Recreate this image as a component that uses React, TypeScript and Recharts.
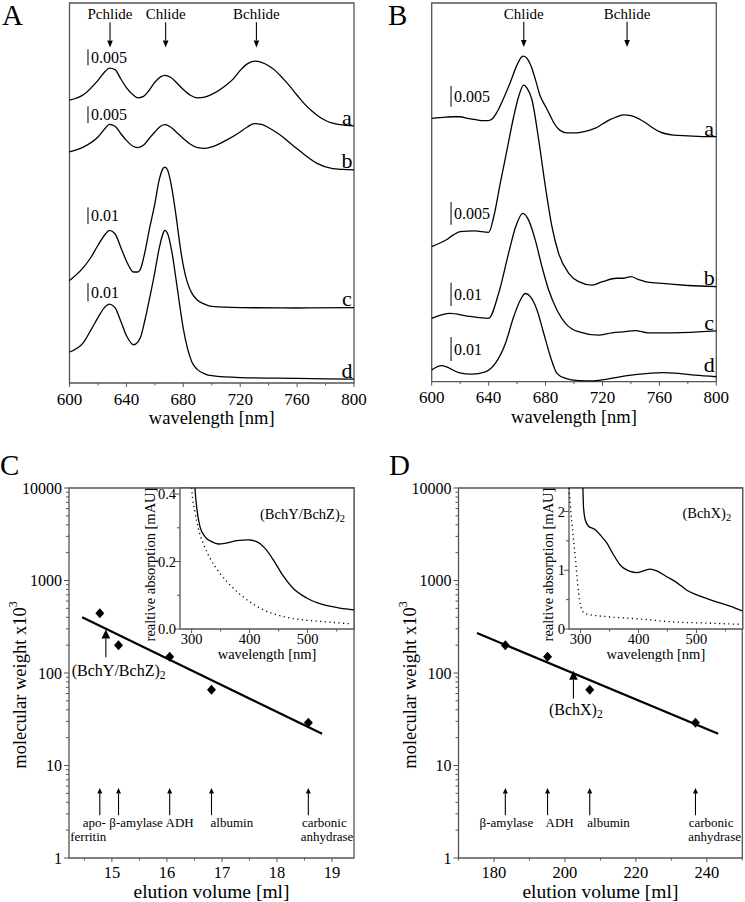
import React from 'react';
import {
  LineChart,
  ComposedChart,
  Line,
  Scatter,
  XAxis,
  YAxis,
  ReferenceArea,
  ReferenceLine,
  ReferenceDot,
} from 'recharts';

const FONT = '"Liberation Serif", "Times New Roman", Times, serif';
const INK = '#000';
const FRAME = '#555';
const TXT = { fontFamily: FONT };

type P = [number, number];

// ---- A: spectra, stacked (offset units, 0..99.3) ----
const specAa: P[] = [[600,73.9],[610,75.4],[620,79.1],[625,81.4],[628,82.3],[632,81.9],[636,79.5],[640,77.2],[645,75.2],[648,74.5],[652,74.9],[656,76.5],[660,78.6],[664,80.0],[667,80.4],[671,79.9],[675,78.6],[680,76.7],[685,75.2],[690,74.5],[695,74.7],[700,75.4],[710,77.8],[715,79.4],[720,81.7],[725,83.4],[730,84.1],[735,83.8],[740,82.9],[745,81.5],[750,79.6],[755,77.5],[760,75.2],[765,73.0],[770,71.2],[775,69.7],[780,68.6],[785,67.9],[790,67.5],[800,67.2]];
const specAb: P[] = [[600,60.4],[610,61.7],[620,64.3],[625,66.5],[628,67.6],[632,67.1],[636,65.2],[640,63.4],[645,61.8],[648,61.5],[652,62.1],[656,63.9],[660,65.6],[664,67.1],[667,67.5],[671,66.9],[675,65.6],[680,63.9],[685,62.4],[690,61.5],[695,61.3],[700,61.7],[710,63.4],[720,65.6],[725,66.9],[730,67.8],[735,67.6],[740,66.7],[745,65.6],[750,64.3],[755,62.7],[762,60.6],[774,57.4],[785,56.0],[792,55.8],[800,55.7]];
const specAc: P[] = [[600,26.8],[610,30.3],[615,32.8],[620,36.0],[625,38.8],[628,39.9],[632,39.0],[636,35.5],[640,31.9],[645,29.0],[648,29.0],[650,29.9],[653,34.2],[656,39.9],[660,46.9],[663,53.0],[666,56.2],[667,56.4],[669,55.6],[672,50.8],[675,43.4],[678,35.1],[680,30.7],[683,26.1],[686,23.5],[690,21.6],[695,20.6],[700,20.0],[720,19.7],[760,19.6],[800,19.7]];
const specAd: P[] = [[600,8.1],[610,10.7],[615,13.8],[620,17.1],[625,19.9],[628,20.6],[632,19.7],[636,16.2],[640,12.4],[645,10.0],[648,10.7],[650,12.0],[653,16.4],[656,21.6],[660,29.0],[663,35.1],[666,39.3],[667,39.9],[669,39.0],[672,34.2],[675,26.8],[678,19.0],[680,14.2],[683,9.0],[686,5.5],[690,3.5],[695,2.4],[700,1.9],[720,1.4],[760,1.2],[800,1.0]];

// ---- B: spectra, stacked (offset units, 0..99.2) ----
const specBa: P[] = [[600,69.0],[610,69.3],[615,69.4],[620,69.4],[625,69.0],[630,68.7],[635,68.4],[640,68.4],[643,69.0],[646,70.7],[650,73.8],[655,78.2],[660,83.0],[663,85.0],[664.5,85.3],[667,84.7],[670,82.5],[673,79.0],[676,75.1],[680,72.1],[683,69.9],[686,67.7],[690,65.9],[695,65.2],[700,65.2],[710,65.8],[715,66.4],[720,67.5],[725,68.6],[730,69.4],[735,69.9],[740,69.7],[745,69.0],[750,67.9],[755,66.6],[760,65.5],[770,64.6],[780,64.4],[790,64.2],[800,64.2]];
const specBb: P[] = [[600,35.4],[610,37.1],[615,38.4],[620,39.3],[630,39.5],[640,39.1],[643.6,43.2],[648.2,52.0],[652.9,60.7],[657.6,69.4],[661.1,74.7],[664.6,77.7],[667,76.9],[670.5,73.8],[675.2,63.3],[679.9,51.1],[684.5,40.6],[689.2,33.6],[696.3,28.4],[703.3,26.2],[712.6,25.3],[720,26.2],[730,27.1],[735,27.1],[740,27.5],[745,26.8],[750,26.2],[760,25.8],[780,25.2],[800,24.9]];
const specBc: P[] = [[600,16.6],[613,17.9],[625,17.2],[640,16.6],[647,23.1],[654,33.6],[659,40.6],[664,44.1],[668,42.4],[672.8,37.1],[677.5,30.1],[682.2,24.0],[688,18.8],[694,15.3],[703,13.1],[717,12.2],[726.7,12.8],[736,13.1],[743,13.4],[752,12.8],[769,12.8],[800,13.3]];
const specBd: P[] = [[600,3.1],[607,4.2],[619,2.4],[628,2.0],[637.7,2.6],[644.7,4.8],[651.8,10.0],[657.6,17.0],[662.3,21.4],[665.8,23.1],[669.3,22.3],[674,18.8],[678.7,12.7],[683.4,6.6],[688,2.2],[694,0.9],[703.3,0.3],[712.6,0.2],[722,0.6],[736,1.5],[752.5,2.2],[761.8,2.4],[773.5,2.2],[785,1.7],[800,1.3]];

const nmTicks = [600, 620, 640, 660, 680, 700, 720, 740, 760, 780, 800];
const nmMajors = [600, 640, 680, 720, 760, 800];

// ---- C / D: gel filtration calibration ----
const calC: P[] = [[14.78, 443], [15.12, 200], [16.05, 150], [16.81, 66], [18.57, 29]];
const fitC: P[] = [[14.46, 400], [18.82, 22]];
const namesC = ['apo-', 'β-amylase', 'ADH', 'albumin', 'carbonic'];
const namesC2 = ['ferritin', '', '', '', 'anhydrase'];
const nameXC = [14.68, 15.44, 16.23, 17.18, 18.86];
const nameX2C = [14.57, 0, 0, 0, 18.91];
const sampleC = { ml: 14.89, from: 148, to: 295 };

const calD: P[] = [[183.2, 200], [195.1, 150], [207, 66], [236.8, 29]];
const fitD: P[] = [[175.2, 270], [243.2, 22]];
const namesD = ['β-amylase', 'ADH', 'albumin', 'carbonic'];
const namesD2 = ['', '', '', 'anhydrase'];
const nameXD = [183.5, 198.5, 212.3, 241.2];
const nameX2D = [0, 0, 0, 242.2];
const sampleD = { ml: 202.4, from: 53, to: 106 };

const mlTicksC = [14.5, 15, 15.5, 16, 16.5, 17, 17.5, 18, 18.5, 19];
const mlMajorsC = [15, 16, 17, 18, 19];
const mlTicksD = [170, 180, 190, 200, 210, 220, 230, 240, 250];
const mlMajorsD = [180, 200, 220, 240];
const logTicks = [1,2,3,4,5,6,7,8,9,10,20,30,40,50,60,70,80,90,100,200,300,400,500,600,700,800,900,1000,2000,3000,4000,5000,6000,7000,8000,9000,10000];
const logMajors = [1, 10, 100, 1000, 10000];

// ---- insets: UV/vis spectra ----
const insetCsolid: P[] = [[304.5,0.46],[305.9,0.416],[308.7,0.362],[314.5,0.303],[323,0.274],[334.6,0.259],[346,0.252],[357.6,0.254],[377.7,0.262],[397.8,0.264],[412,0.259],[426.6,0.239],[440.9,0.205],[455,0.165],[475,0.121],[498.4,0.092],[527,0.072],[555.9,0.062],[580,0.057]];
const insetCdot: P[] = [[298.5,0.46],[300.1,0.416],[305.9,0.347],[311.6,0.298],[320,0.254],[331.7,0.21],[349,0.165],[369,0.126],[395,0.087],[423.6,0.057],[458,0.037],[492.6,0.027],[533,0.021],[576,0.015]];
const insetDsolid: P[] = [[303.5,2.6],[304,2.4],[305,2.08],[308,1.86],[313.8,1.75],[325.3,1.69],[334,1.6],[345.5,1.46],[357,1.26],[368.4,1.09],[385.7,0.98],[397,0.96],[408.6,0.99],[420,1.02],[431.6,0.99],[449,0.89],[466,0.79],[483.4,0.66],[500.7,0.58],[529.3,0.48],[558,0.39],[579,0.31]];
const insetDdot: P[] = [[280,2.4],[285,1.8],[290.8,1.23],[294.8,0.78],[298.3,0.49],[302.4,0.32],[308,0.26],[345.5,0.21],[403,0.17],[460,0.12],[518,0.1],[575,0.08]];

const wlTicks = [300, 350, 400, 450, 500, 550];
const wlMajors = [300, 400, 500];

const nm = (pts: P[]) => pts.map(([x, v]) => ({ nm: x, v }));
const ml = (pts: P[]) => pts.map(([x, v]) => ({ ml: x, mw: v }));
const isIn = (v: number, arr: number[]) => arr.some((m) => Math.abs(m - v) < 1e-6);

// ticks drawn by hand so minor ticks get no label
const bottomTick = (majors: number[], fs: number, gap: number, fmt = (v: number) => String(v)) => (p: any) => {
  const v = p.payload.value;
  const major = isIn(v, majors);
  return (
    <g>
      <line x1={p.x} x2={p.x} y1={p.y} y2={p.y + (major ? 4 : 2.5)} stroke={FRAME} strokeWidth={1} />
      {major && (
        <text x={p.x} y={p.y + gap} textAnchor="middle" dominantBaseline="central" fontSize={fs} style={TXT} fill={INK}>
          {fmt(v)}
        </text>
      )}
    </g>
  );
};

const leftTick = (majors: number[], fs: number, gap: number, fmt = (v: number) => String(v)) => (p: any) => {
  const v = p.payload.value;
  const major = isIn(v, majors);
  return (
    <g>
      <line x1={p.x} x2={p.x - (major ? 5 : 3)} y1={p.y} y2={p.y} stroke={FRAME} strokeWidth={1} />
      {major && (
        <text x={p.x - gap} y={p.y} textAnchor="end" dominantBaseline="central" fontSize={fs} style={TXT} fill={INK}>
          {fmt(v)}
        </text>
      )}
    </g>
  );
};

const xTitle = (text: string, dy: number, fs: number) => (p: any) => {
  const vb = p.viewBox;
  return (
    <text x={vb.x + vb.width / 2} y={vb.y + dy} textAnchor="middle" dominantBaseline="central" fontSize={fs} style={TXT} fill={INK}>
      {text}
    </text>
  );
};

const yTitle = (content: React.ReactNode, back: number, dyc: number, fs: number) => (p: any) => {
  const vb = p.viewBox;
  const x = vb.x + vb.width - back;
  const y = vb.y + vb.height / 2 + dyc;
  return (
    <text x={x} y={y} transform={`rotate(-90 ${x} ${y})`} textAnchor="middle" dominantBaseline="central" fontSize={fs} style={TXT} fill={INK}>
      {content}
    </text>
  );
};

const arrow = (head: number, half: number) => (p: any) => {
  const { x1, y1, x2, y2 } = p;
  const dx = x2 - x1;
  const dy = y2 - y1;
  const len = Math.hypot(dx, dy) || 1;
  const ux = dx / len;
  const uy = dy / len;
  const bx = x2 - ux * head;
  const by = y2 - uy * head;
  return (
    <g>
      <line x1={x1} y1={y1} x2={bx} y2={by} stroke={INK} strokeWidth={1.1} />
      <path d={`M${x2},${y2} L${bx - uy * half},${by + ux * half} L${bx + uy * half},${by - ux * half} Z`} fill={INK} />
    </g>
  );
};

const scaleBar = (label: string) => (p: any) => (
  <g>
    <line x1={p.x1} y1={p.y1} x2={p.x2} y2={p.y2} stroke={INK} strokeWidth={1} />
    <text x={p.x1 + 3} y={(p.y1 + p.y2) / 2} dominantBaseline="central" fontSize={16} style={TXT} fill={INK}>
      {label}
    </text>
  </g>
);

const note = (t: React.ReactNode, fs: number, anchor: 'start' | 'middle' | 'end' = 'middle') => (p: any) => (
  <text x={p.cx} y={p.cy} textAnchor={anchor} dominantBaseline="central" fontSize={fs} style={TXT} fill={INK}>
    {t}
  </text>
);

const sub2 = (base: string, fs: number) => (
  <>
    {base}
    <tspan dy={4} fontSize={fs * 0.72}>2</tspan>
  </>
);

const diamond = (p: any) => (
  <path d={`M${p.cx},${p.cy - 5} L${p.cx + 4.5},${p.cy} L${p.cx},${p.cy + 5} L${p.cx - 4.5},${p.cy} Z`} fill={INK} />
);

type SpecPanel = {
  series: P[][];
  yMax: number;
  plotH: number;
  arrows: { x: number; t: string }[];
  bars: { y1: number; y2: number; t: string }[];
  barX: number;
  letters: number[];
};

const panelA: SpecPanel = {
  series: [specAa, specAb, specAc, specAd],
  yMax: 99.3,
  plotH: 380,
  arrows: [{ x: 628.5, t: 'Pchlide' }, { x: 667.6, t: 'Chlide' }, { x: 731.4, t: 'Bchlide' }],
  bars: [{ y1: 87.2, y2: 83.0, t: '0.005' }, { y1: 72.3, y2: 67.9, t: '0.005' }, { y1: 45.9, y2: 41.5, t: '0.01' }, { y1: 26.1, y2: 21.3, t: '0.01' }],
  barX: 613,
  letters: [69.4, 58.2, 22.1, 3.3],
};

const panelB: SpecPanel = {
  series: [specBa, specBb, specBc, specBd],
  yMax: 99.2,
  plotH: 378.7,
  arrows: [{ x: 664.7, t: 'Chlide' }, { x: 737.3, t: 'Bchlide' }],
  bars: [{ y1: 77.5, y2: 72.0, t: '0.005' }, { y1: 47.1, y2: 41.1, t: '0.005' }, { y1: 25.9, y2: 19.8, t: '0.01' }, { y1: 11.7, y2: 5.4, t: '0.01' }],
  barX: 613.6,
  letters: [66.2, 27.4, 15.6, 4.4],
};

function Spectra({ d, width, left, right }: { d: SpecPanel; width: number; left: number; right: number }) {
  return (
    <LineChart width={width} height={430} margin={{ top: 3, right, bottom: 0, left }} style={TXT}>
      <XAxis dataKey="nm" type="number" domain={[600, 800]} ticks={nmTicks} interval={0} tickSize={0} tickMargin={0} axisLine={false} height={430 - 3 - d.plotH} tick={bottomTick(nmMajors, 17, 16)} label={xTitle('wavelength [nm]', 35, 18.5)} />
      <YAxis hide type="number" domain={[0, d.yMax]} />
      <ReferenceArea x1={600} x2={800} y1={0} y2={d.yMax} fill="none" stroke={FRAME} strokeWidth={1.3} />
      {d.series.map((s, i) => (
        <Line key={i} data={nm(s)} dataKey="v" type="monotone" stroke={INK} strokeWidth={1.3} dot={false} activeDot={false} isAnimationActive={false} />
      ))}
      {d.arrows.map((a) => (
        <ReferenceLine key={a.t} ifOverflow="visible" segment={[{ x: a.x, y: 94.3 }, { x: a.x, y: 87.7 }]} shape={arrow(7, 2.8)} />
      ))}
      {d.arrows.map((a) => (
        <ReferenceDot key={'t' + a.t} x={a.x} y={96.3} ifOverflow="visible" shape={note(a.t, 15)} />
      ))}
      {d.bars.map((b, i) => (
        <ReferenceLine key={'b' + i} ifOverflow="visible" segment={[{ x: d.barX, y: b.y1 }, { x: d.barX, y: b.y2 }]} shape={scaleBar(b.t)} />
      ))}
      {d.letters.map((y, i) => (
        <ReferenceDot key={'l' + i} x={795} y={y} ifOverflow="visible" shape={note('abcd'[i], 22)} />
      ))}
    </LineChart>
  );
}

type CalPanel = {
  cal: P[];
  fit: P[];
  dom: [number, number];
  ticks: number[];
  majors: number[];
  names: string[];
  names2: string[];
  nameX: number[];
  nameX2: number[];
  sample: { ml: number; from: number; to: number };
  sampleLabel: { x: number; y: number; t: string };
};

const calPanelC: CalPanel = {
  cal: calC, fit: fitC, dom: [14.22, 19.4], ticks: mlTicksC, majors: mlMajorsC,
  names: namesC, names2: namesC2, nameX: nameXC, nameX2: nameX2C, sample: sampleC,
  sampleLabel: { x: 14.27, y: 106, t: '(BchY/BchZ)' },
};

const calPanelD: CalPanel = {
  cal: calD, fit: fitD, dom: [170, 250], ticks: mlTicksD, majors: mlMajorsD,
  names: namesD, names2: namesD2, nameX: nameXD, nameX2: nameX2D, sample: sampleD,
  sampleLabel: { x: 195.5, y: 40, t: '(BchX)' },
};

function Calibration({ d, width, axisW, right }: { d: CalPanel; width: number; axisW: number; right: number }) {
  return (
    <ComposedChart width={width} height={422} margin={{ top: 8, right, bottom: 0, left: 0 }} style={TXT}>
      <XAxis dataKey="ml" type="number" domain={d.dom} ticks={d.ticks} interval={0} tickSize={0} tickMargin={0} axisLine={false} height={44} tick={bottomTick(d.majors, 16.5, 14)} label={xTitle('elution volume [ml]', 33.5, 19.5)} />
      <YAxis type="number" scale="log" domain={[1, 10000]} ticks={logTicks} interval={0} allowDataOverflow width={axisW} tickSize={0} tickMargin={0} axisLine={false} tick={leftTick(logMajors, 16, 7)} label={yTitle(<>molecular weight x10<tspan dy={-7} fontSize={12}>3</tspan></>, 49, 12, 18.5)} />
      <ReferenceArea x1={d.dom[0]} x2={d.dom[1]} y1={1} y2={10000} fill="none" stroke={FRAME} strokeWidth={1.3} />
      <Line data={ml(d.fit)} dataKey="mw" type="linear" stroke={INK} strokeWidth={2.2} dot={false} activeDot={false} isAnimationActive={false} />
      <Scatter data={ml(d.cal)} dataKey="mw" fill={INK} shape={diamond} isAnimationActive={false} />
      <ReferenceLine ifOverflow="visible" segment={[{ x: d.sample.ml, y: d.sample.from }, { x: d.sample.ml, y: d.sample.to }]} shape={arrow(9, 4.3)} />
      <ReferenceDot x={d.sampleLabel.x} y={d.sampleLabel.y} ifOverflow="visible" shape={note(sub2(d.sampleLabel.t, 16), 16, 'start')} />
      {d.cal.map(([x], i) => (
        <ReferenceLine key={'a' + i} ifOverflow="visible" segment={[{ x, y: 2.9 }, { x, y: 5.7 }]} shape={arrow(5.5, 2.5)} />
      ))}
      {d.names.map((t, i) => (
        <ReferenceDot key={'n' + i} x={d.nameX[i]} y={2.42} ifOverflow="visible" shape={note(t, 13)} />
      ))}
      {d.names2.map((t, i) =>
        t ? <ReferenceDot key={'m' + i} x={d.nameX2[i]} y={1.7} ifOverflow="visible" shape={note(t, 13)} /> : null
      )}
    </ComposedChart>
  );
}

type InsetPanel = {
  solid: P[];
  dot: P[];
  yMax: number;
  yTicks: number[];
  yMajors: number[];
  fmt: (v: number) => string;
  label: { x: number; y: number; t: string };
  titleBack: number;
};

const insetC: InsetPanel = {
  solid: insetCsolid, dot: insetCdot, yMax: 0.418, yTicks: [0, 0.1, 0.2, 0.3, 0.4], yMajors: [0, 0.2, 0.4],
  fmt: (v) => v.toFixed(1), label: { x: 418, y: 0.342, t: '(BchY/BchZ)' }, titleBack: 30,
};
const insetD: InsetPanel = {
  solid: insetDsolid, dot: insetDdot, yMax: 2.4, yTicks: [0, 0.5, 1, 1.5, 2], yMajors: [0, 1, 2],
  fmt: (v) => String(v), label: { x: 475.7, y: 1.98, t: '(BchX)' }, titleBack: 21.5,
};

function Inset({ d, width, right }: { d: InsetPanel; width: number; right: number }) {
  return (
    <LineChart width={width} height={185} margin={{ top: 8, right, bottom: 0, left: 0 }} style={TXT}>
      <XAxis dataKey="nm" type="number" domain={[280, 580]} ticks={wlTicks} interval={0} tickSize={0} tickMargin={0} axisLine={false} height={36} tick={bottomTick(wlMajors, 14.5, 10)} label={xTitle('wavelength [nm]', 25, 14.5)} />
      <YAxis type="number" domain={[0, d.yMax]} ticks={d.yTicks} interval={0} allowDataOverflow width={50} tickSize={0} tickMargin={0} axisLine={false} tick={leftTick(d.yMajors, 14.5, 4, d.fmt)} label={yTitle('realtive absorption [mAU]', d.titleBack, 6, 14.5)} />
      <ReferenceArea x1={280} x2={580} y1={0} y2={d.yMax} fill="none" stroke={FRAME} strokeWidth={1.3} />
      <Line data={nm(d.dot)} dataKey="v" type="monotone" stroke={INK} strokeWidth={1.3} strokeDasharray="1.2 3.4" dot={false} activeDot={false} isAnimationActive={false} />
      <Line data={nm(d.solid)} dataKey="v" type="monotone" stroke={INK} strokeWidth={1.3} dot={false} activeDot={false} isAnimationActive={false} />
      <ReferenceDot x={d.label.x} y={d.label.y} ifOverflow="visible" shape={note(sub2(d.label.t, 14.5), 14.5, 'start')} />
    </LineChart>
  );
}

const letter = (t: string, left: number, top: number) => (
  <div style={{ position: 'absolute', left, top, fontSize: 29, lineHeight: '29px', fontFamily: FONT, color: INK }}>{t}</div>
);

const abs = (left: number, top: number, child: React.ReactNode) => (
  <div style={{ position: 'absolute', left, top }}>{child}</div>
);

export default function App() {
  return (
    <div style={{ position: 'absolute', left: 0, top: 0, width: 745, height: 902, overflow: 'hidden', background: '#fff', fontFamily: FONT }}>
      {abs(0, 0, <Spectra d={panelA} width={372} left={69.5} right={18} />)}
      {abs(372, 0, <Spectra d={panelB} width={373} left={59.7} right={28.7} />)}
      {abs(0, 480, <Calibration d={calPanelC} width={372} axisW={69} right={18} />)}
      {abs(372, 480, <Calibration d={calPanelD} width={373} axisW={86.5} right={2.7} />)}
      <div style={{ position: 'absolute', left: 180, top: 488, width: 174, height: 141, background: '#fff' }} />
      {abs(130, 480, <Inset d={insetC} width={230} right={6} />)}
      <div style={{ position: 'absolute', left: 568.5, top: 488, width: 173.8, height: 141, background: '#fff' }} />
      {abs(518.5, 480, <Inset d={insetD} width={226.5} right={2.7} />)}
      {letter('A', 2, 1)}
      {letter('B', 388, 1)}
      {letter('C', 0, 451)}
      {letter('D', 389, 451)}
    </div>
  );
}
